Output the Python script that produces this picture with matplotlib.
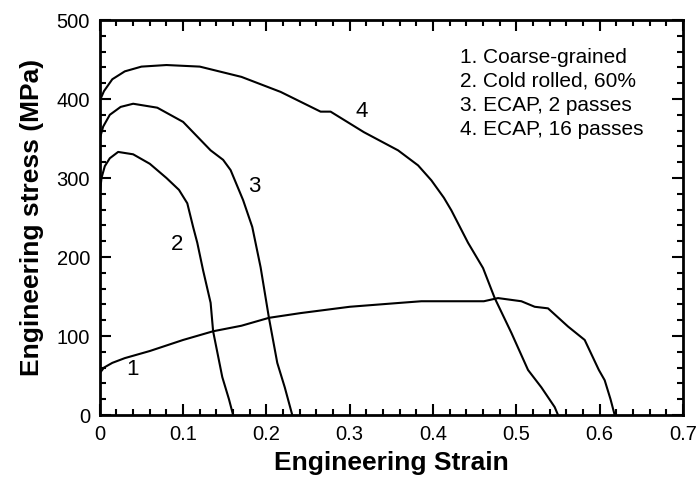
import numpy as np
import matplotlib.pyplot as plt
from matplotlib.ticker import MultipleLocator

plt.rcParams['font.family'] = ['Liberation Sans', 'DejaVu Sans']

# engineering strain / stress (MPa) read for each material condition
strain_cg = [0.0, 0.005, 0.015, 0.03, 0.06, 0.1, 0.136, 0.17, 0.203, 0.241, 0.3, 0.361,
             0.386, 0.461, 0.478, 0.506, 0.522, 0.538, 0.562, 0.582, 0.599, 0.606, 0.613, 0.618]
stress_cg = [53, 60, 66, 72, 81, 95, 106, 113, 123, 129, 137, 142,
             144, 144, 148, 144, 137, 135, 112, 95, 57, 44, 20, 0]

strain_cr = [0.0, 0.002, 0.006, 0.012, 0.022, 0.04, 0.06, 0.08, 0.095, 0.105, 0.112,
             0.117, 0.124, 0.133, 0.136, 0.147, 0.155, 0.16]
stress_cr = [280, 300, 315, 325, 333, 330, 318, 300, 285, 268, 238,
             218, 183, 142, 106, 48, 20, 0]

strain_e2 = [0.0, 0.004, 0.012, 0.025, 0.04, 0.069, 0.1, 0.133, 0.148, 0.157, 0.172,
             0.183, 0.193, 0.203, 0.213, 0.222, 0.231]
stress_e2 = [350, 365, 380, 390, 394, 389, 371, 335, 323, 310, 272,
             238, 187, 123, 66, 35, 0]

strain_e16 = [0.0, 0.005, 0.015, 0.03, 0.05, 0.08, 0.12, 0.17, 0.217, 0.265, 0.277,
              0.317, 0.358, 0.382, 0.398, 0.413, 0.422, 0.442, 0.46, 0.474, 0.494,
              0.514, 0.53, 0.546, 0.55]
stress_e16 = [398, 410, 425, 435, 441, 443, 441, 428, 409, 384, 384,
              358, 335, 316, 297, 275, 259, 218, 186, 148, 104,
              57, 35, 10, 0]

curve_tags = ['1', '2', '3', '4']
tag_x = [0.039, 0.093, 0.186, 0.314]
tag_y = [58, 216, 289, 384]
legend_lines = ['1. Coarse-grained', '2. Cold rolled, 60%',
                '3. ECAP, 2 passes', '4. ECAP, 16 passes']

fig = plt.figure(figsize=(6.98, 4.82), dpi=100)
ax = fig.add_axes([0.143, 0.139, 0.8355, 0.8195])

for sx, sy in [(strain_cg, stress_cg), (strain_cr, stress_cr),
               (strain_e2, stress_e2), (strain_e16, stress_e16)]:
    ax.plot(sx, sy, color='black', lw=1.5)

for t, x, y in zip(curve_tags, tag_x, tag_y):
    ax.text(x, y, t, fontsize=16, ha='center', va='center')

for i, line in enumerate(legend_lines):
    ax.text(0.617, 0.906 - i * 0.061, line, transform=ax.transAxes,
            fontsize=15, ha='left', va='center')

ax.set_xlim(0, 0.7)
ax.set_ylim(0, 500)
ax.xaxis.set_major_locator(MultipleLocator(0.1))
ax.xaxis.set_minor_locator(MultipleLocator(0.02))
ax.yaxis.set_major_locator(MultipleLocator(100))
ax.yaxis.set_minor_locator(MultipleLocator(20))
ax.set_xticks(np.arange(0, 0.71, 0.1))
ax.set_xticklabels(['0', '0.1', '0.2', '0.3', '0.4', '0.5', '0.6', '0.7'])
ax.tick_params(which='both', direction='in', top=True, right=True, labelsize=14.5, width=1.5)
ax.tick_params(which='major', length=8, pad=7)
ax.tick_params(which='minor', length=4)
for s in ax.spines.values():
    s.set_linewidth(2)

ax.set_xlabel('Engineering Strain', fontsize=19, fontweight='bold', labelpad=5)
ax.set_ylabel('Engineering stress (MPa)', fontsize=19, fontweight='bold', labelpad=9)

fig.savefig('out.png', dpi=100)
